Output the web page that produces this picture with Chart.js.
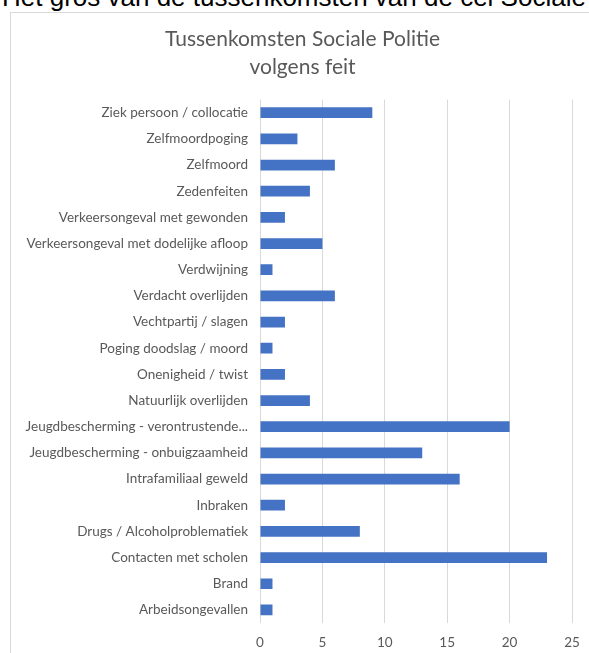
<!DOCTYPE html>
<html>
<head>
<meta charset="utf-8">
<script src="https://cdn.jsdelivr.net/npm/chart.js@4"></script>
<style>
    html, body { margin: 0; padding: 0; background: #fff; overflow: hidden; width: 589px; height: 653px; }
    .kop {
        position: absolute; left: 2px; top: -16px; white-space: nowrap;
        font-family: "Liberation Sans", Arial, sans-serif; font-size: 26px; line-height: 26px; color: #000;
    }
    .kader {
        position: absolute; left: 10px; top: 12px; width: 583px; height: 660px;
        border: 1px solid #d9d9d9; background: #fff;
    }
    canvas { display: block; }
</style>
</head>
<body>
<div class="kop">Het gros van de tussenkomsten van de cel Sociale Politie</div>
<div class="kader"><canvas id="feitChart" width="583" height="650"></canvas></div>
<script>
// categorieën (van boven naar onder)
const feiten = [
    'Ziek persoon / collocatie',
    'Zelfmoordpoging',
    'Zelfmoord',
    'Zedenfeiten',
    'Verkeersongeval met gewonden',
    'Verkeersongeval met dodelijke afloop',
    'Verdwijning',
    'Verdacht overlijden',
    'Vechtpartij / slagen',
    'Poging doodslag / moord',
    'Onenigheid / twist',
    'Natuurlijk overlijden',
    'Jeugdbescherming - verontrustende...',
    'Jeugdbescherming - onbuigzaamheid',
    'Intrafamiliaal geweld',
    'Inbraken',
    'Drugs / Alcoholproblematiek',
    'Contacten met scholen',
    'Brand',
    'Arbeidsongevallen'
];

// aantal tussenkomsten
const aantallen = [9, 3, 6, 4, 2, 5, 1, 6, 2, 1, 2, 4, 20, 13, 16, 2, 8, 23, 1, 1];

// as
const asMin = 0;
const asMax = 25;
const asStap = 5;

const titel = ['Tussenkomsten Sociale Politie', 'volgens feit'];

const grijs = '#595959';
const lijn = '#d9d9d9';

const ctx = document.getElementById('feitChart').getContext('2d');
new Chart(ctx, {
    type: 'bar',
    data: {
        labels: feiten,
        datasets: [{
            data: aantallen,
            backgroundColor: '#4472c4',
            borderWidth: 0,
            categoryPercentage: 1,
            barPercentage: 0.41
        }]
    },
    options: {
        indexAxis: 'y',
        responsive: false,
        animation: false,
        layout: { padding: 0 },
        scales: {
            x: {
                min: asMin,
                max: asMax,
                ticks: { stepSize: asStap, color: grijs, font: { family: 'Lato', size: 13.5 }, padding: 12 },
                grid: { color: lijn, lineWidth: 1, drawTicks: false },
                border: { display: false },
                // ruimte rechts enkel voor het plotgebied, de titel blijft gecentreerd
                afterFit: scale => { scale.height = 40; scale.paddingRight = 22; }
            },
            y: {
                ticks: { color: grijs, font: { family: 'Lato', size: 13.5 }, padding: 12, autoSkip: false },
                grid: { display: false, drawTicks: false },
                border: { display: false },
                afterFit: scale => { scale.width = 249; }
            }
        },
        plugins: {
            legend: { display: false },
            tooltip: { enabled: false },
            title: {
                display: true,
                text: titel,
                color: grijs,
                font: { family: 'Lato', size: 21, weight: 'normal', lineHeight: 1.3 },
                padding: { top: 13, bottom: 19 }
            }
        }
    }
});
</script>
</body>
</html>
